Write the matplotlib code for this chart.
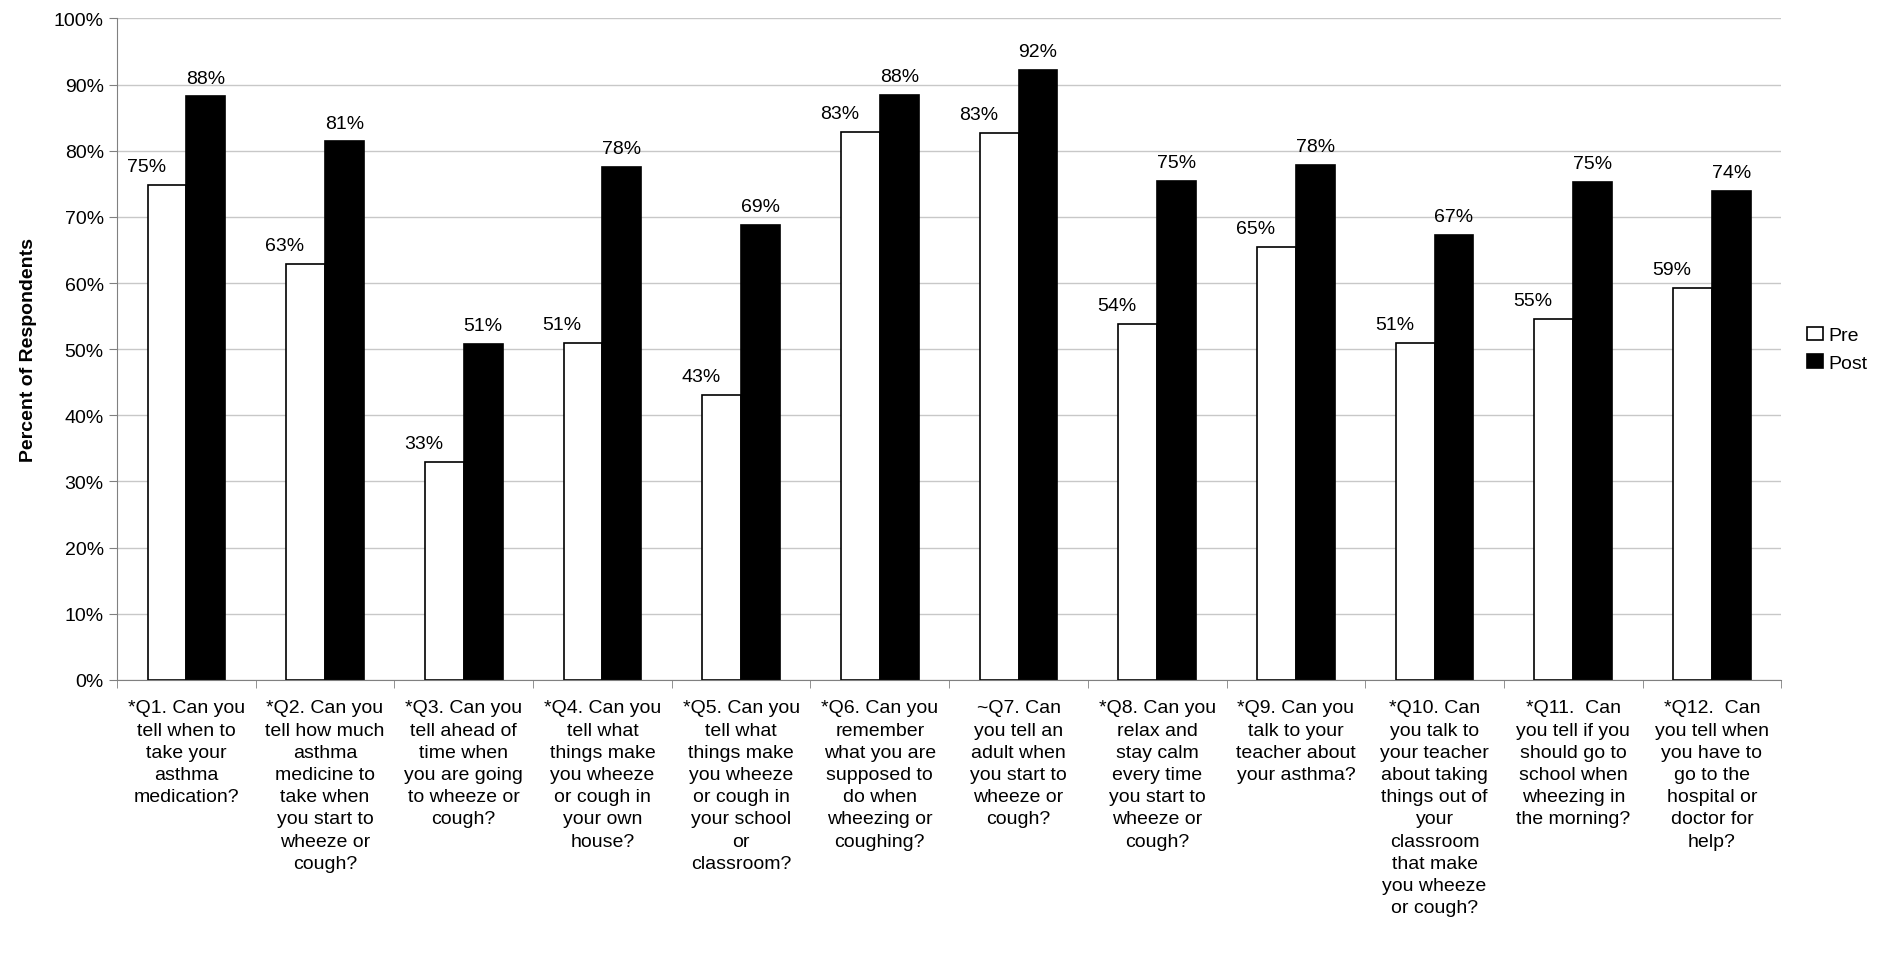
import matplotlib
matplotlib.use("Agg")
import matplotlib.pyplot as plt
import numpy as np

plt.rcParams["font.family"] = ["Liberation Sans", "DejaVu Sans"]

questions = [
    "*Q1. Can you\ntell when to\ntake your\nasthma\nmedication?",
    "*Q2. Can you\ntell how much\nasthma\nmedicine to\ntake when\nyou start to\nwheeze or\ncough?",
    "*Q3. Can you\ntell ahead of\ntime when\nyou are going\nto wheeze or\ncough?",
    "*Q4. Can you\ntell what\nthings make\nyou wheeze\nor cough in\nyour own\nhouse?",
    "*Q5. Can you\ntell what\nthings make\nyou wheeze\nor cough in\nyour school\nor\nclassroom?",
    "*Q6. Can you\nremember\nwhat you are\nsupposed to\ndo when\nwheezing or\ncoughing?",
    "~Q7. Can\nyou tell an\nadult when\nyou start to\nwheeze or\ncough?",
    "*Q8. Can you\nrelax and\nstay calm\nevery time\nyou start to\nwheeze or\ncough?",
    "*Q9. Can you\ntalk to your\nteacher about\nyour asthma?",
    "*Q10. Can\nyou talk to\nyour teacher\nabout taking\nthings out of\nyour\nclassroom\nthat make\nyou wheeze\nor cough?",
    "*Q11.  Can\nyou tell if you\nshould go to\nschool when\nwheezing in\nthe morning?",
    "*Q12.  Can\nyou tell when\nyou have to\ngo to the\nhospital or\ndoctor for\nhelp?",
]
pre = [74.8, 62.9, 32.9, 50.9, 43.1, 82.9, 82.7, 53.8, 65.4, 50.9, 54.6, 59.2]
post = [88.2, 81.4, 50.8, 77.6, 68.8, 88.4, 92.2, 75.4, 77.9, 67.2, 75.3, 73.9]

fig = plt.figure(figsize=(18.87, 9.70), dpi=100)
ax = fig.add_axes([0.062, 0.298, 0.882, 0.682])

x = np.arange(len(questions))
w = 0.28
ax.bar(x - w / 2, pre, w, color="white", edgecolor="black", linewidth=1.2, label="Pre")
ax.bar(x + w / 2, post, w, color="black", edgecolor="black", linewidth=1.2, label="Post")

for xi, v in zip(x, pre):
    ax.text(xi - w / 2 - 0.15, v + 1.5, f"{v:.0f}%", ha="center", va="bottom", fontsize=14)
for xi, v in zip(x, post):
    ax.text(xi + w / 2, v + 1.5, f"{v:.0f}%", ha="center", va="bottom", fontsize=14)

ax.set_xlim(-0.5, len(questions) - 0.5)
ax.set_ylim(0, 100)
ax.set_yticks(range(0, 101, 10))
ax.set_yticklabels([f"{t}%" for t in range(0, 101, 10)], fontsize=14)
ax.yaxis.grid(True, color="#c8c8c8", linewidth=1)
ax.set_axisbelow(True)
ax.set_xticks(x)
ax.set_xticklabels(questions, fontsize=14, linespacing=1.4, va="top")
ax.set_xticks(np.arange(-0.5, len(questions), 1), minor=True)
ax.tick_params(axis="x", which="major", length=0, pad=14)
ax.tick_params(axis="x", which="minor", length=6, color="#808080")
ax.tick_params(axis="y", length=6, color="#808080")
for s in ["top", "right"]:
    ax.spines[s].set_visible(False)
for s in ["left", "bottom"]:
    ax.spines[s].set_color("#808080")
ax.set_ylabel("Percent of Respondents", fontsize=14, fontweight="bold", labelpad=12)

ax.legend(loc="center left", bbox_to_anchor=(1.005, 0.5), frameon=False, fontsize=14,
          handlelength=0.8, handletextpad=0.3)

fig.savefig("out.png", dpi=100)
